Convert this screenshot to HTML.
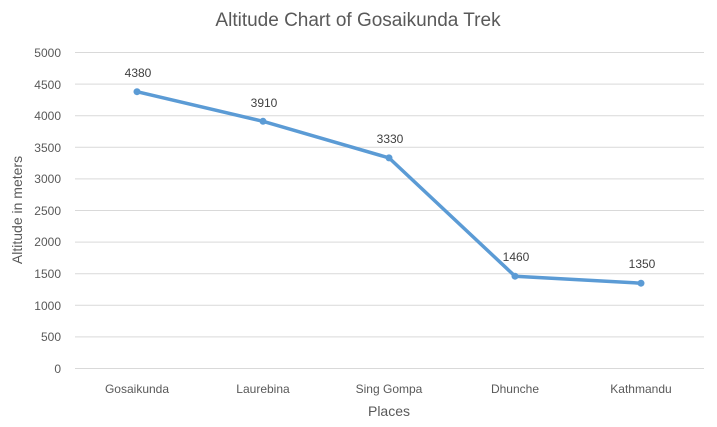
<!DOCTYPE html>
<html><head><meta charset="utf-8"><style>
html,body{margin:0;padding:0;background:#fff;}
svg{display:block;font-family:"Liberation Sans",sans-serif;}
</style></head><body>
<svg width="717" height="427" viewBox="0 0 717 427">
<rect width="717" height="427" fill="#fff"/>
<text x="358" y="26" text-anchor="middle" font-size="19" fill="#595959">Altitude Chart of Gosaikunda Trek</text>
<g stroke="#d9d9d9" stroke-width="1">
<line x1="75" x2="704" y1="52.5" y2="52.5"/>
<line x1="75" x2="704" y1="84.1" y2="84.1"/>
<line x1="75" x2="704" y1="115.7" y2="115.7"/>
<line x1="75" x2="704" y1="147.3" y2="147.3"/>
<line x1="75" x2="704" y1="178.9" y2="178.9"/>
<line x1="75" x2="704" y1="210.5" y2="210.5"/>
<line x1="75" x2="704" y1="242.1" y2="242.1"/>
<line x1="75" x2="704" y1="273.7" y2="273.7"/>
<line x1="75" x2="704" y1="305.3" y2="305.3"/>
<line x1="75" x2="704" y1="336.9" y2="336.9"/>
<line x1="75" x2="704" y1="368.5" y2="368.5"/>
</g>
<g font-size="12" fill="#595959" text-anchor="end">
<text x="61" y="57">5000</text><text x="61" y="89">4500</text><text x="61" y="120">4000</text>
<text x="61" y="152">3500</text><text x="61" y="183">3000</text><text x="61" y="215">2500</text>
<text x="61" y="246">2000</text><text x="61" y="278">1500</text><text x="61" y="310">1000</text>
<text x="61" y="341">500</text><text x="61" y="373">0</text>
</g>
<g font-size="12" fill="#595959" text-anchor="middle">
<text x="137" y="393">Gosaikunda</text><text x="263" y="393">Laurebina</text>
<text x="389" y="393">Sing Gompa</text><text x="515" y="393">Dhunche</text>
<text x="641" y="393">Kathmandu</text>
</g>
<text x="389" y="416" text-anchor="middle" font-size="14" fill="#595959">Places</text>
<text transform="translate(22,210) rotate(-90)" text-anchor="middle" font-size="14" fill="#595959">Altitude in meters</text>
<polyline points="137,91.7 263,121.3 389,157.9 515,276.2 641,283.2" fill="none" stroke="#5b9bd5" stroke-width="3.5" stroke-linejoin="round"/>
<g fill="#5b9bd5">
<circle cx="137" cy="91.7" r="3.5"/><circle cx="263" cy="121.3" r="3.5"/><circle cx="389" cy="157.9" r="3.5"/>
<circle cx="515" cy="276.2" r="3.5"/><circle cx="641" cy="283.2" r="3.5"/>
</g>
<g font-size="12" fill="#404040" text-anchor="middle">
<text x="138" y="77">4380</text><text x="264" y="107">3910</text><text x="390" y="143">3330</text>
<text x="516" y="261">1460</text><text x="642" y="268">1350</text>
</g>
</svg>
</body></html>
